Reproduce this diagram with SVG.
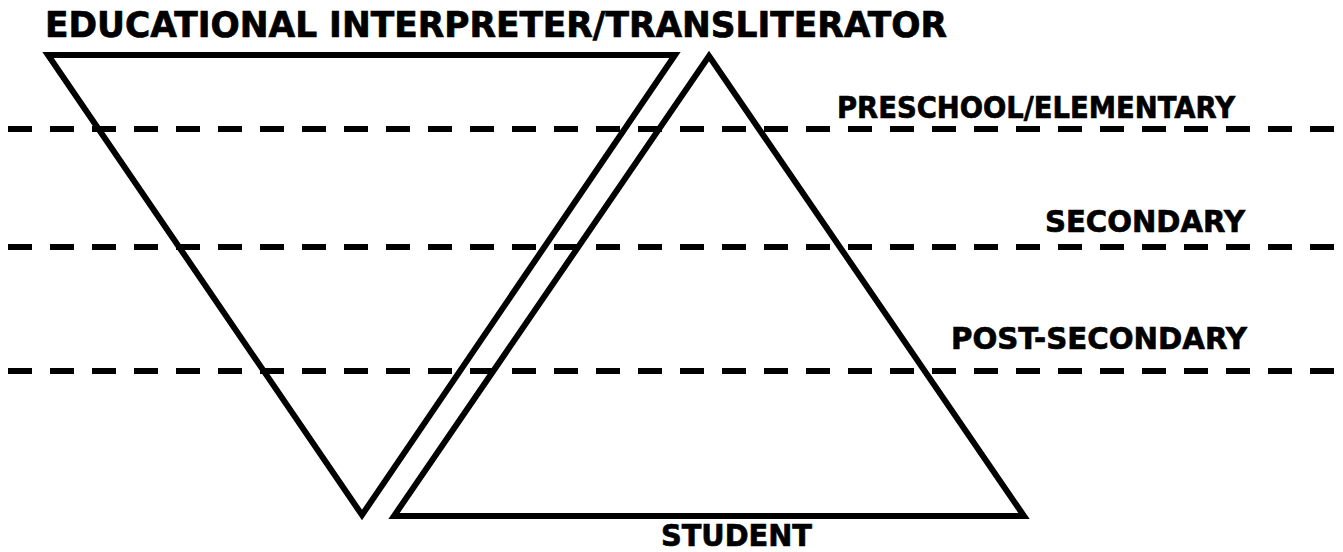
<svg xmlns="http://www.w3.org/2000/svg" width="1343" height="552" viewBox="0 0 1343 552">
<style>
.lbl{font-family:"DejaVu Sans","Verdana",sans-serif;font-weight:bold;fill:#000;stroke:#000;stroke-width:0.7}
.dash{stroke:#000;stroke-width:6;stroke-dasharray:24 18;fill:none}
.tri{stroke:#000;stroke-width:6;fill:none;stroke-linejoin:miter;stroke-miterlimit:10}
</style>
<rect width="1343" height="552" fill="#fff"/>
<g id="levels">
<line class="dash" x1="8" y1="129" x2="1334" y2="129"/>
<line class="dash" x1="8" y1="247" x2="1334" y2="247"/>
<line class="dash" x1="8" y1="371" x2="1334" y2="371"/>
</g>
<g id="interpreter">
<polygon class="tri" points="48,55 675,55 362,515"/>
<text class="lbl" x="45" y="37" font-size="35" textLength="902" lengthAdjust="spacingAndGlyphs">EDUCATIONAL INTERPRETER/TRANSLITERATOR</text>
</g>
<g id="student">
<polygon class="tri" points="709,56 1024,516 394,516"/>
<text class="lbl" x="661" y="546" font-size="31" textLength="151" lengthAdjust="spacingAndGlyphs">STUDENT</text>
</g>
<g id="label-preschool">
<text class="lbl" x="837" y="118" font-size="31" textLength="398" lengthAdjust="spacingAndGlyphs">PRESCHOOL/ELEMENTARY</text>
</g>
<g id="label-secondary">
<text class="lbl" x="1045" y="232" font-size="31" textLength="200" lengthAdjust="spacingAndGlyphs">SECONDARY</text>
</g>
<g id="label-postsecondary">
<text class="lbl" x="951" y="349" font-size="31" textLength="296" lengthAdjust="spacingAndGlyphs">POST-SECONDARY</text>
</g>
<g id="connectors"></g>
</svg>
